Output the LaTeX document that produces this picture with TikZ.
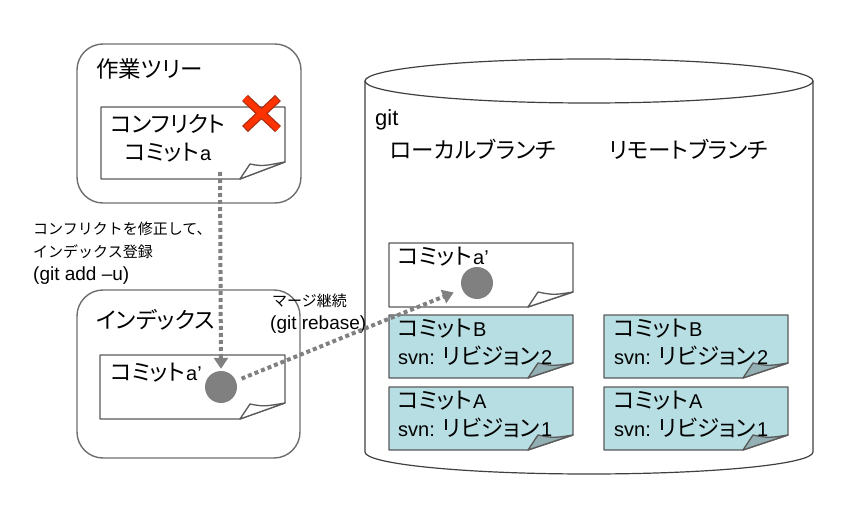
\documentclass[tikz,border=0pt]{standalone}
\usepackage{fontspec}
\setmainfont{Liberation Sans}
\newfontfamily\jpfam[RawFeature=+palt]{Noto Sans CJK JP}
\newfontfamily\jqfam{Noto Sans CJK JP}
\newcommand\jp[1]{{\jpfam\fontsize{22.5}{24}\selectfont #1}}
\newcommand\jq[1]{{\jqfam\fontsize{15}{17}\selectfont #1}}
\usetikzlibrary{arrows.meta}
\definecolor{boxline}{RGB}{110,110,110}
\definecolor{docline}{RGB}{90,90,90}
\definecolor{dotgray}{RGB}{128,128,128}
\definecolor{cyanfill}{RGB}{183,222,226}
\definecolor{flapcyan}{RGB}{147,176,180}
\definecolor{xred}{RGB}{255,51,0}
\definecolor{xdark}{RGB}{170,45,20}
\newcommand\docpage[8]{%
  \fill[#7] (#1,#2) -- (#3,#2) -- (#3,#6) -- (#5,#4) -- (#1,#4) -- cycle;
  \draw[docedge] (#1,#2) -- (#3,#2) -- (#3,#6) -- (#5,#4) -- (#1,#4) -- cycle;
  \filldraw[docedge, fill=#8] (#5,#4) -- ++(10,-15) .. controls +(14,3) and +(-18,3) .. (#3,#6) -- cycle;
}
\begin{document}
\begin{tikzpicture}[x=1pt,y=-1pt,
  rbox/.style={draw=boxline, line width=1.4pt, rounded corners=26pt},
  docedge/.style={draw=docline, line width=1.3pt, line join=round},
  cyl/.style={draw=black!75, line width=1.2pt},
  title/.style={anchor=base west, inner sep=0pt, font=\fontsize{20}{22}\selectfont},
  dot/.style={circle, fill=dotgray, minimum size=32pt, inner sep=0pt},
  flow/.style={draw=dotgray, line width=4pt, dash pattern=on 4pt off 3pt,
    -{Triangle[length=11pt,width=14pt,fill=dotgray]}},
]
\useasboundingbox (0,0) rectangle (852,516);

% working tree
\draw[rbox] (77,44) rectangle (301,203);
\node[title] (wt) at (96,78) {\jp{作業ツリー}};
\docpage{101}{107}{285}{179}{240}{162}{white}{white}
\node[title] (conf1) at (110,133) {\jp{コンフリクト}};
\node[title] (conf2) at (124,161) {\jp{コミット}\kern1pt a};
% red X
\draw[xdark, line width=8.5pt] (245,98) -- (278,129) (278,98) -- (245,129);
\draw[xred, line width=6pt, shorten <=1.2pt, shorten >=1.2pt] (245,98) -- (278,129) (278,98) -- (245,129);

% index
\draw[rbox] (77,290) rectangle (300,458);
\node[title] (idx) at (96,328) {\jp{インデックス}};
\docpage{100}{355}{285}{419}{240}{403}{white}{white}
\node[title] (ia) at (110,380) {\jp{コミット}\kern1pt a’};
\node[dot] (ci) at (221,387) {};

% git cylinder
\draw[cyl, fill=white] (365,81) -- (365,452) arc[start angle=180, end angle=360, x radius=224, y radius=-22] -- (813,81);
\draw[cyl] (589,81) ellipse[x radius=224, y radius=22];
\node[title, font=\fontsize{22}{24}\selectfont] (git) at (375,126) {git};
\node[title] (lb) at (390,159) {\jp{ローカルブランチ}};
\node[title] (rb) at (609,159) {\jp{リモートブランチ}};

% git a'
\docpage{389}{243}{573}{307}{528}{292}{white}{white}
\node[title] (ga) at (397,264) {\jp{コミット}\kern1pt a’};
\node[dot] (cg) at (477,283) {};

% local branch
\docpage{389}{315}{573}{378}{528}{363}{cyanfill}{flapcyan}
\node[title] (lB1) at (397,336) {\jp{コミット}\kern1pt B};
\node[title] (lB2) at (398,364) {svn: \jp{リビジョン}\kern1pt 2};
\docpage{389}{387}{573}{450}{528}{435}{cyanfill}{flapcyan}
\node[title] (lA1) at (397,408) {\jp{コミット}\kern1pt A};
\node[title] (lA2) at (398,436) {svn: \jp{リビジョン}\kern1pt 1};

% remote branch
\docpage{604}{315}{788}{378}{743}{363}{cyanfill}{flapcyan}
\node[title] (rB1) at (613,336) {\jp{コミット}\kern1pt B};
\node[title] (rB2) at (614,364) {svn: \jp{リビジョン}\kern1pt 2};
\docpage{604}{387}{788}{450}{743}{435}{cyanfill}{flapcyan}
\node[title] (rA1) at (613,408) {\jp{コミット}\kern1pt A};
\node[title] (rA2) at (614,436) {svn: \jp{リビジョン}\kern1pt 1};

% labels
\node[title] (l1) at (33,234) {\jq{コンフリクトを修正して、}};
\node[title] (l2) at (33,257) {\jq{インデックス登録}};
\node[title, font=\fontsize{19}{21}\selectfont] (l3) at (33,280) {(git add –u)};
\node[title] (m1) at (272,306) {\jq{マージ継続}};
\node[title, font=\fontsize{19}{21}\selectfont] (m2) at (270,329) {(git rebase)};

% arrows
\coordinate (s1) at (220,172);
\draw[flow, shorten >=2pt] (s1) -- (ci.north);
\draw[flow, shorten <=6pt, shorten >=9pt] (ci) -- (cg);
\end{tikzpicture}
\end{document}
